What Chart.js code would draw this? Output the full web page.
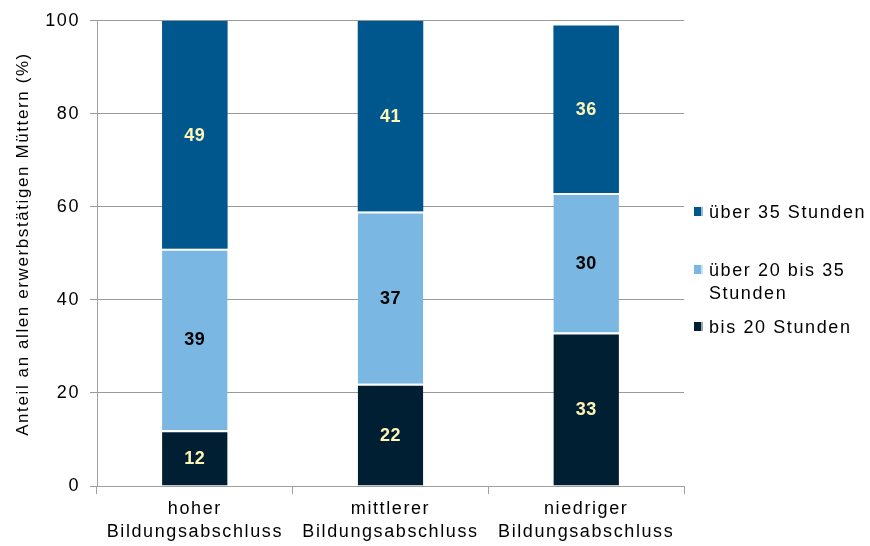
<!DOCTYPE html>
<html>
<head>
<meta charset="utf-8">
<script src="https://cdn.jsdelivr.net/npm/chart.js@4"></script>
<style>
	html, body { margin: 0; padding: 0; background: #fff; }
	#wrap { width: 870px; height: 546px; }
</style>
</head>
<body>
<div id="wrap"><canvas id="chart1"></canvas></div>
<script>
//=========== data ===========
const categories = [
	['hoher', 'Bildungsabschluss'],
	['mittlerer', 'Bildungsabschluss'],
	['niedriger', 'Bildungsabschluss']
];
const bis20 = [12, 22, 33];
const ueber20bis35 = [39, 37, 30];
const ueber35 = [49, 41, 36];
const yTicks = [0, 20, 40, 60, 80, 100];
const yTitle = 'Anteil an allen erwerbstätigen Müttern (%)';

const FONT = "'Liberation Sans', Arial, sans-serif";
const SPACING = '1.6px';

//=========== wider text spacing for everything drawn on the canvas ===========
const textSpacing = {
	id: 'textSpacing',
	beforeDraw(chart) {
		chart.ctx.letterSpacing = SPACING;
	}
};

//=========== y axis title (a bit above the middle of the axis) ===========
const sideTitle = {
	id: 'sideTitle',
	afterDraw(chart) {
		const ctx = chart.ctx;
		ctx.save();
		ctx.letterSpacing = SPACING;
		ctx.font = '17px ' + FONT;
		ctx.fillStyle = '#000';
		ctx.textAlign = 'center';
		ctx.textBaseline = 'middle';
		ctx.translate(23, 244);
		ctx.rotate(-Math.PI / 2);
		ctx.fillText(yTitle, 0, 0);
		ctx.restore();
	}
};

//=========== value labels inside the segments ===========
const segmentLabels = {
	id: 'segmentLabels',
	afterDatasetsDraw(chart) {
		const ctx = chart.ctx;
		ctx.save();
		ctx.letterSpacing = '0.5px';
		ctx.font = 'bold 18px ' + FONT;
		ctx.textAlign = 'center';
		ctx.textBaseline = 'middle';
		chart.data.datasets.forEach((ds, i) => {
			const meta = chart.getDatasetMeta(i);
			meta.data.forEach((bar, j) => {
				const y = (bar.y + bar.base) / 2;
				ctx.fillStyle = ds.labelColor;
				ctx.fillText(String(ds.data[j]), bar.x, y + 1);
			});
		});
		ctx.restore();
	}
};

//=========== legend on the right (with wrapped text) ===========
const sideLegend = {
	id: 'sideLegend',
	afterDraw(chart) {
		const ctx = chart.ctx;
		const items = [
			{ ds: 2, lines: ['über 35 Stunden'], y: 212 },
			{ ds: 1, lines: ['über 20 bis 35', 'Stunden'], y: 270 },
			{ ds: 0, lines: ['bis 20 Stunden'], y: 327 }
		];
		ctx.save();
		ctx.letterSpacing = SPACING;
		ctx.font = '18px ' + FONT;
		ctx.textBaseline = 'middle';
		ctx.textAlign = 'left';
		items.forEach(it => {
			const ds = chart.data.datasets[it.ds];
			ctx.fillStyle = ds.backgroundColor;
			ctx.fillRect(694, it.y - 5, 9, 9);
			ctx.strokeStyle = 'rgba(255,255,255,0.6)';
			ctx.lineWidth = 1;
			ctx.strokeRect(701.5, it.y - 4.5, 1, 8);
			ctx.fillStyle = '#000';
			it.lines.forEach((t, k) => {
				ctx.fillText(t, 709, it.y + 1 + k * 23);
			});
		});
		ctx.restore();
	}
};

const ctx1 = document.getElementById('chart1').getContext('2d');
const myChart1 = new Chart(ctx1, {
	type: 'bar',
	data: {
		labels: categories,
		datasets: [
			{
				label: 'bis 20 Stunden',
				data: bis20,
				backgroundColor: '#001F33',
				borderColor: '#ffffff',
				borderWidth: { top: 2, left: 0, right: 0, bottom: 0 },
				labelColor: '#FFF5B4'
			},
			{
				label: 'über 20 bis 35 Stunden',
				data: ueber20bis35,
				backgroundColor: '#7AB7E2',
				borderColor: '#ffffff',
				borderWidth: { top: 2, left: 0, right: 0, bottom: 0 },
				labelColor: '#000000'
			},
			{
				label: 'über 35 Stunden',
				data: ueber35,
				backgroundColor: '#00578E',
				borderColor: '#ffffff',
				borderWidth: 0,
				labelColor: '#FFF5B4'
			}
		]
	},
	plugins: [textSpacing, segmentLabels, sideLegend, sideTitle],
	options: {
		responsive: true,
		maintainAspectRatio: false,
		animation: false,
		events: [],
		categoryPercentage: 1,
		barPercentage: 0.335,
		layout: {
			padding: { left: 0, right: 186, top: 20, bottom: 0 }
		},
		plugins: {
			legend: { display: false },
			tooltip: { enabled: false }
		},
		scales: {
			x: {
				stacked: true,
				border: { display: true, color: '#a0a0a0', width: 1 },
				grid: {
					offset: true,
					drawOnChartArea: false,
					drawTicks: true,
					tickLength: 8,
					color: '#a0a0a0'
				},
				ticks: {
					color: '#000',
					font: { family: FONT, size: 18, lineHeight: 1.3 },
					padding: 3,
					maxRotation: 0
				},
				afterFit: scale => { scale.height = 60; }
			},
			y: {
				stacked: true,
				min: 0,
				max: 100,
				afterBuildTicks: scale => {
					scale.ticks = yTicks.map(v => ({ value: v }));
				},
				border: { display: true, color: '#a0a0a0', width: 1 },
				grid: {
					color: '#9a9a9a',
					lineWidth: 1,
					drawTicks: true,
					tickLength: 7
				},
				ticks: {
					color: '#000',
					font: { family: FONT, size: 18 },
					padding: 10
				},
				afterFit: scale => { scale.width = 97; }
			}
		}
	}
});
</script>
</body>
</html>
